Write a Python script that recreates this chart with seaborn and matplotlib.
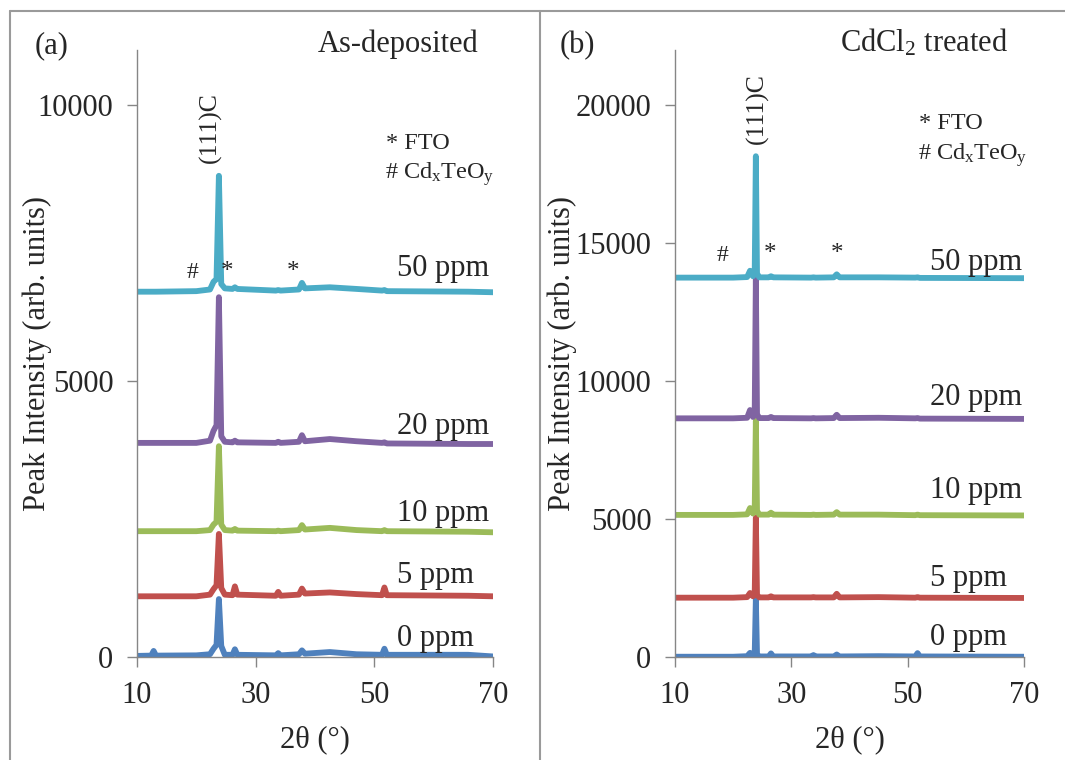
import numpy as np
import pandas as pd
import matplotlib
matplotlib.use("Agg")
import matplotlib.pyplot as plt
from matplotlib.lines import Line2D
import seaborn as sns

# ---------------- Data ----------------
samples = ["0 ppm", "5 ppm", "10 ppm", "20 ppm", "50 ppm"]
colors = ["#4F81BD", "#C0504D", "#9BBB59", "#8064A2", "#4BACC6"]

# (a) As-deposited
tt_a = [10, 12.4, 12.8, 13.2, 20, 22.3, 22.9, 23.4, 23.8, 24.2, 24.8, 26.1, 26.5, 26.9,
        33.4, 33.8, 34.2, 37.3, 37.8, 38.3, 42.5, 47, 51.3, 51.7, 52.1, 65.8, 70]
a_0 = [20, 25, 110, 25, 30, 50, 150, 220, 1050, 200, 40, 40, 140, 40,
       30, 70, 30, 50, 120, 60, 90, 50, 40, 150, 40, 40, 10]
a_5 = [1100, 1100, 1100, 1100, 1100, 1130, 1230, 1300, 2230, 1250, 1130, 1120, 1280, 1130,
       1110, 1180, 1110, 1130, 1240, 1150, 1170, 1140, 1120, 1260, 1120, 1110, 1100]
a_10 = [2280, 2280, 2280, 2280, 2280, 2300, 2400, 2450, 3820, 2400, 2300, 2290, 2320, 2290,
        2280, 2290, 2280, 2300, 2390, 2310, 2340, 2300, 2280, 2300, 2280, 2270, 2260]
a_20 = [3880, 3880, 3880, 3880, 3880, 3920, 4100, 4200, 6520, 4000, 3900, 3890, 3920, 3890,
        3880, 3900, 3880, 3900, 4020, 3910, 3950, 3910, 3880, 3890, 3870, 3860, 3860]
a_50 = [6620, 6620, 6620, 6620, 6630, 6660, 6800, 6850, 8720, 6760, 6680, 6670, 6700, 6670,
        6640, 6650, 6640, 6660, 6780, 6680, 6700, 6670, 6640, 6650, 6630, 6620, 6610]

# (b) CdCl2 treated
tt_b = [10, 20, 22.4, 22.9, 23.4, 23.7, 23.9, 24.1, 24.5, 26.1, 26.5, 26.9,
        33.4, 33.8, 34.2, 37.3, 37.8, 38.3, 45, 51.3, 51.7, 52.1, 70]
b_0 = [10, 10, 30, 150, 60, 100, 2100, 100, 20, 20, 130, 20,
       20, 70, 20, 20, 90, 20, 30, 20, 140, 20, 10]
b_5 = [2150, 2150, 2170, 2320, 2200, 2250, 5050, 2250, 2160, 2160, 2200, 2160,
       2160, 2170, 2160, 2160, 2290, 2160, 2170, 2150, 2170, 2150, 2140]
b_10 = [5150, 5150, 5170, 5400, 5200, 5300, 8560, 5300, 5160, 5160, 5230, 5160,
        5150, 5160, 5150, 5160, 5250, 5160, 5160, 5140, 5160, 5140, 5130]
b_20 = [8650, 8650, 8670, 8950, 8700, 8800, 13700, 8800, 8660, 8660, 8700, 8660,
        8650, 8660, 8650, 8660, 8780, 8660, 8670, 8650, 8660, 8640, 8630]
b_50 = [13750, 13750, 13770, 14000, 13800, 13900, 18150, 13900, 13760, 13760, 13800, 13760,
        13750, 13760, 13750, 13760, 13870, 13760, 13760, 13750, 13760, 13740, 13730]

# label positions for the sample names (intensity axis)
lab_a_y = [344, 1485, 2609, 4185, 7047]
lab_b_y = [690, 2860, 6050, 9420, 14311]


def to_long(tt, series):
    frames = []
    for name, vals in zip(samples, series):
        frames.append(pd.DataFrame({"2theta": tt, "intensity": vals, "sample": name}))
    return pd.concat(frames, ignore_index=True)


df_a = to_long(tt_a, [a_0, a_5, a_10, a_20, a_50])
df_b = to_long(tt_b, [b_0, b_5, b_10, b_20, b_50])

# ---------------- Style ----------------
sns.set_style("white")
plt.rcParams["font.family"] = ["Liberation Serif", "DejaVu Serif"]
plt.rcParams["mathtext.fontset"] = "custom"
plt.rcParams["mathtext.rm"] = "Liberation Serif"
plt.rcParams["mathtext.default"] = "rm"

FS = 22
grey = "#868686"
LW = 4.2

fig = plt.figure(figsize=(10.65, 7.6), dpi=100)
W, H = 1065, 760


def setup(ax, ymax, yticks):
    ax.set_xlim(10, 70)
    ax.set_ylim(0, ymax)
    ax.set_xticks([10, 30, 50, 70])
    ax.set_yticks(yticks)
    for s in ["top", "right"]:
        ax.spines[s].set_visible(False)
    for s in ["left", "bottom"]:
        ax.spines[s].set_color(grey)
        ax.spines[s].set_linewidth(1.0)
    ax.tick_params(axis="both", direction="out", length=7, width=1.0, color=grey,
                   labelsize=FS, pad=10, left=True, bottom=True)
    ax.set_xlabel("2θ (°)", fontsize=FS)
    ax.set_ylabel("Peak Intensity (arb. units)", fontsize=FS)
    ax.xaxis.set_label_coords(0.5, -0.113)


# ---------------- Panel (a) ----------------
ax_a = fig.add_axes([137 / W, 1 - 657 / H, 356 / W, 607 / H])
sns.lineplot(data=df_a, x="2theta", y="intensity", hue="sample", palette=colors,
             hue_order=samples, estimator=None, sort=False, lw=LW, legend=False, ax=ax_a)
setup(ax_a, 11000, [0, 5000, 10000])
ax_a.yaxis.set_label_coords(-0.24, 0.5)
for name, yy in zip(samples, lab_a_y):
    ax_a.text(53.8, yy, name, fontsize=FS, va="center", ha="left")
ax_a.text(22.3, 9600, "(111)C", rotation=90, fontsize=18.5, ha="center", va="center")
ax_a.text(19.4, 6975, "#", fontsize=17, ha="center", va="center")
ax_a.text(25.2, 6985, "*", fontsize=18, ha="center", va="center")
ax_a.text(36.3, 6985, "*", fontsize=18, ha="center", va="center")
ax_a.text(52.0, 9300, "* FTO", fontsize=17.5, ha="left", va="center")
ax_a.text(51.8, 8750, "# Cd$_{\\mathrm{x}}$TeO$_{\\mathrm{y}}$", fontsize=17.5, ha="left", va="center")

# ---------------- Panel (b) ----------------
ax_b = fig.add_axes([675 / W, 1 - 657 / H, 349 / W, 607 / H])
sns.lineplot(data=df_b, x="2theta", y="intensity", hue="sample", palette=colors,
             hue_order=samples, estimator=None, sort=False, lw=LW, legend=False, ax=ax_b)
setup(ax_b, 22000, [0, 5000, 10000, 15000, 20000])
ax_b.yaxis.set_label_coords(-0.28, 0.5)
for name, yy in zip(samples, lab_b_y):
    ax_b.text(53.8, yy, name, fontsize=FS, va="center", ha="left")
ax_b.text(24.1, 19890, "(111)C", rotation=90, fontsize=18.5, ha="center", va="center")
ax_b.text(18.1, 14565, "#", fontsize=17, ha="center", va="center")
ax_b.text(26.3, 14600, "*", fontsize=18, ha="center", va="center")
ax_b.text(37.9, 14600, "*", fontsize=18, ha="center", va="center")
ax_b.text(52.0, 19340, "* FTO", fontsize=17.5, ha="left", va="center")
ax_b.text(51.8, 18180, "# Cd$_{\\mathrm{x}}$TeO$_{\\mathrm{y}}$", fontsize=17.5, ha="left", va="center")

# ---------------- Panel titles and frame ----------------
fig.text(35 / W, 1 - 53 / H, "(a)", fontsize=FS, ha="left", va="baseline")
fig.text(478 / W, 1 - 52 / H, "As-deposited", fontsize=FS, ha="right", va="baseline")
fig.text(560 / W, 1 - 53 / H, "(b)", fontsize=FS, ha="left", va="baseline")
fig.text(1008 / W, 1 - 52 / H, "CdCl$_{2}$ treated", fontsize=FS, ha="right", va="baseline")

frame_kw = dict(color="#9a9a9a", lw=1.5, transform=fig.transFigure)
fig.add_artist(Line2D([10 / W, 10 / W], [0, 1 - 11 / H], **frame_kw))
fig.add_artist(Line2D([10 / W, 1], [1 - 11 / H, 1 - 11 / H], **frame_kw))
fig.add_artist(Line2D([539.5 / W, 539.5 / W], [0, 1 - 11 / H], **frame_kw))

fig.savefig("out.png", dpi=100)
